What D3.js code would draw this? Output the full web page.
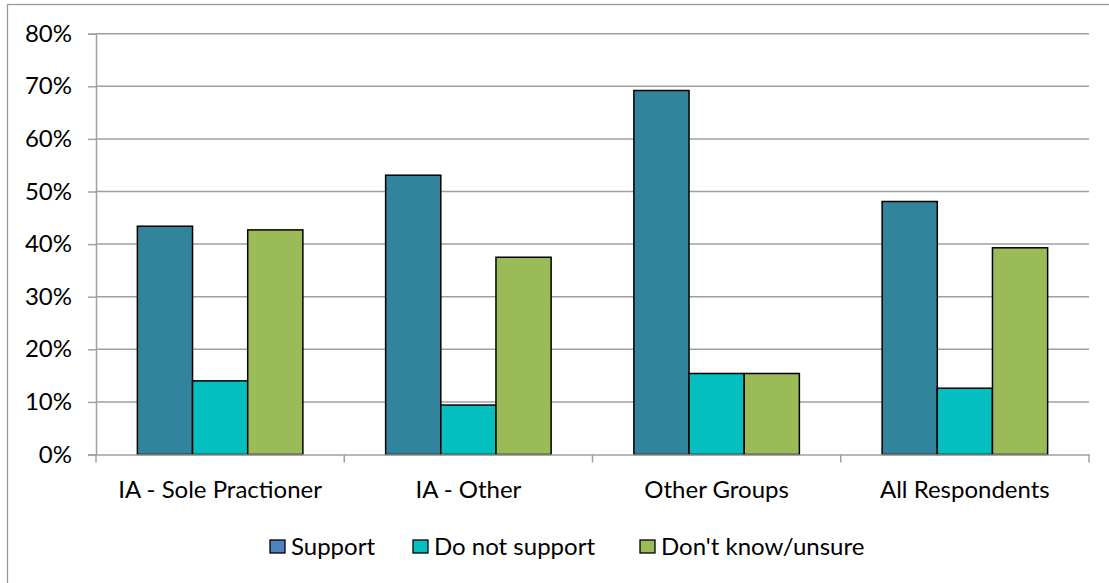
<!DOCTYPE html>
<html>
<head>
<meta charset="utf-8">
<script src="https://cdn.jsdelivr.net/npm/d3@7"></script>
<style>
  html, body { margin: 0; padding: 0; background: #fff; }
  svg { display: block; font-family: Lato, "Open Sans", sans-serif; }
</style>
</head>
<body>
<svg id="chart" width="1109" height="583"></svg>
<script>
// Survey responses by respondent group (share of respondents)
const categories = ["IA - Sole Practioner", "IA - Other", "Other Groups", "All Respondents"];
const seriesNames = ["Support", "Do not support", "Don't know/unsure"];
const support      = [0.434, 0.531, 0.692, 0.481];
const doNotSupport = [0.140, 0.094, 0.154, 0.126];
const dontKnow     = [0.427, 0.375, 0.154, 0.393];
const yTicks = [0, 0.1, 0.2, 0.3, 0.4, 0.5, 0.6, 0.7, 0.8];

const barColors = ["#31849B", "#04BFBF", "#9BBB59"];
const legendColors = ["#4F81BD", "#04BFBF", "#9BBB59"];
const seriesValues = [support, doNotSupport, dontKnow];

const fontSize = 24;
const svg = d3.select("#chart");

// outer chart frame
svg.append("rect")
  .attr("x", 7.5).attr("y", 4.5)
  .attr("width", 1120).attr("height", 600)
  .attr("fill", "none").attr("stroke", "#9a9a9a").attr("stroke-width", 1.3);

const plot = { left: 96, right: 1089, top: 33.7, bottom: 454.5 };

const x = d3.scaleBand().domain(categories)
  .range([plot.left, plot.right]).paddingInner(0).paddingOuter(0);
const y = d3.scaleLinear().domain([0, 0.8]).range([plot.bottom, plot.top]);

const gridColor = "#a0a0a0";

// horizontal gridlines
svg.append("g").selectAll("line").data(yTicks.filter(d => d > 0)).join("line")
  .attr("x1", plot.left).attr("x2", plot.right)
  .attr("y1", d => y(d)).attr("y2", d => y(d))
  .attr("stroke", gridColor).attr("stroke-width", 1.5);

// y axis
const yAxis = d3.axisLeft(y).tickValues(yTicks).tickFormat(d3.format(".0%")).tickSize(8).tickPadding(16);
const yg = svg.append("g").attr("transform", `translate(${plot.left},0)`).call(yAxis);
yg.select(".domain").attr("stroke", gridColor).attr("stroke-width", 1.5);
yg.selectAll(".tick line").attr("stroke", gridColor).attr("stroke-width", 1.5);
yg.selectAll(".tick text").attr("font-size", fontSize).attr("fill", "#000")
  .attr("font-family", "Lato, sans-serif");

// bars: each band holds three bars with a 150% gap split on both sides
const barW = x.bandwidth() / 4.5;
const inner = d3.scaleBand().domain(seriesNames)
  .range([0.75 * barW, 3.75 * barW]).padding(0);

categories.forEach((cat, ci) => {
  seriesNames.forEach((s, si) => {
    const v = seriesValues[si][ci];
    svg.append("rect")
      .attr("x", x(cat) + inner(s))
      .attr("y", y(v))
      .attr("width", inner.bandwidth())
      .attr("height", y(0) - y(v))
      .attr("fill", barColors[si])
      .attr("stroke", "#000").attr("stroke-width", 1.5);
  });
});

// x axis
const xAxis = d3.axisBottom(x).tickSize(0).tickPadding(26);
const xg = svg.append("g").attr("transform", `translate(0,${plot.bottom})`).call(xAxis);
xg.select(".domain").attr("stroke", gridColor).attr("stroke-width", 1.5);
xg.selectAll(".tick text").attr("font-size", fontSize).attr("fill", "#000")
  .attr("font-family", "Lato, sans-serif");
// category boundary ticks
const bounds = categories.map(c => x(c)).concat([plot.right]);
svg.append("g").selectAll("line").data(bounds).join("line")
  .attr("x1", d => d).attr("x2", d => d)
  .attr("y1", plot.bottom).attr("y2", plot.bottom + 8)
  .attr("stroke", gridColor).attr("stroke-width", 1.5);

// legend
const legendItems = [
  { name: seriesNames[0], x: 270 },
  { name: seriesNames[1], x: 413 },
  { name: seriesNames[2], x: 640 }
];
const lg = svg.append("g");
legendItems.forEach((it, i) => {
  lg.append("rect")
    .attr("x", it.x).attr("y", 540)
    .attr("width", 15).attr("height", 13)
    .attr("fill", legendColors[i]).attr("stroke", "#000").attr("stroke-width", 1.3);
  lg.append("text")
    .attr("x", it.x + 21).attr("y", 555)
    .attr("font-size", fontSize).attr("fill", "#000")
    .text(it.name);
});
</script>
</body>
</html>
